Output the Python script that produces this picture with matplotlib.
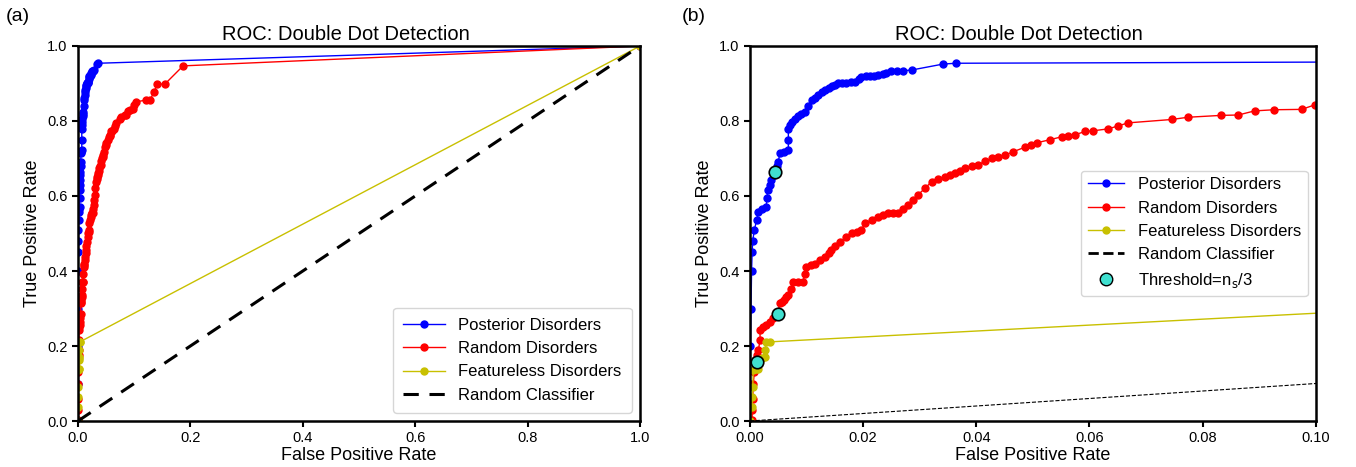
#!/usr/bin/env python3

import matplotlib
matplotlib.use("Agg")
import matplotlib.pyplot as plt
from matplotlib.lines import Line2D

plt.rcParams['font.family'] = ['Liberation Sans', 'DejaVu Sans']

# ROC points (fpr, tpr)
post_fpr = [0.0, 0.0, 0.0001, 0.0002, 0.0003, 0.0004, 0.0005, 0.0008, 0.0012,
            0.0015, 0.0022, 0.0029, 0.0030, 0.0032, 0.0035, 0.0038, 0.0042,
            0.0045, 0.0048, 0.0050, 0.0053, 0.0060, 0.0068, 0.0068, 0.0068,
            0.0071, 0.0074, 0.0080, 0.0085, 0.0091, 0.0097, 0.0103, 0.0109,
            0.0115, 0.0120, 0.0127, 0.0133, 0.0140, 0.0145, 0.0150, 0.0156,
            0.0163, 0.0170, 0.0178, 0.0186, 0.0192, 0.0197, 0.0205, 0.0212,
            0.0220, 0.0227, 0.0235, 0.0240, 0.0250, 0.0260, 0.0270, 0.0286,
            0.0342, 0.0365, 1.0]
post_tpr = [0.0, 0.10, 0.20, 0.30, 0.40, 0.45, 0.48, 0.51, 0.536,
            0.558, 0.565, 0.571, 0.595, 0.616, 0.63, 0.643, 0.655,
            0.665, 0.680, 0.690, 0.714, 0.718, 0.723, 0.750, 0.778,
            0.790, 0.798, 0.805, 0.812, 0.818, 0.825, 0.840, 0.856,
            0.862, 0.870, 0.877, 0.883, 0.888, 0.892, 0.896, 0.900,
            0.901, 0.902, 0.903, 0.905, 0.912, 0.918, 0.919, 0.920,
            0.921, 0.923, 0.925, 0.928, 0.932, 0.933, 0.934, 0.936,
            0.952, 0.954, 1.0]

rand_fpr = [0.0, 0.0004, 0.0004, 0.0005, 0.0006, 0.0008, 0.0009, 0.0012,
            0.0015, 0.0018, 0.0018, 0.0024, 0.0029, 0.0035, 0.0041, 0.0049,
            0.0053, 0.0057, 0.0060, 0.0064, 0.0068, 0.0072, 0.0077, 0.0085,
            0.0094, 0.0097, 0.0100, 0.0108, 0.0115, 0.0124, 0.0133, 0.0139,
            0.0144, 0.0151, 0.0159, 0.0170, 0.0180, 0.0189, 0.0197, 0.0203,
            0.0215, 0.0227, 0.0235, 0.0244, 0.0253, 0.0262, 0.0271, 0.0280,
            0.0289, 0.0297, 0.0309, 0.0321, 0.0333, 0.0345, 0.0354, 0.0362,
            0.0371, 0.0380, 0.0392, 0.0403, 0.0415, 0.0427, 0.0439, 0.0451,
            0.0465, 0.0486, 0.0497, 0.0507, 0.0530, 0.0551, 0.0562, 0.0574,
            0.0592, 0.0607, 0.0633, 0.0651, 0.0668, 0.0745, 0.0774, 0.0833,
            0.0863, 0.0892, 0.0926, 0.0975, 0.0998, 0.104, 0.121, 0.128,
            0.135, 0.141, 0.155, 0.187, 1.0]
rand_tpr = [0.0, 0.003, 0.03, 0.06, 0.10, 0.13, 0.163, 0.176,
            0.189, 0.216, 0.243, 0.250, 0.256, 0.265, 0.274, 0.285,
            0.314, 0.318, 0.322, 0.330, 0.336, 0.352, 0.371, 0.371,
            0.371, 0.392, 0.411, 0.416, 0.420, 0.429, 0.438, 0.447,
            0.456, 0.467, 0.478, 0.490, 0.500, 0.505, 0.509, 0.527,
            0.536, 0.545, 0.550, 0.554, 0.554, 0.554, 0.565, 0.576,
            0.590, 0.603, 0.620, 0.638, 0.645, 0.651, 0.656, 0.660,
            0.667, 0.674, 0.679, 0.683, 0.692, 0.700, 0.705, 0.709,
            0.718, 0.730, 0.736, 0.742, 0.750, 0.758, 0.760, 0.763,
            0.772, 0.774, 0.779, 0.787, 0.795, 0.804, 0.810, 0.815,
            0.816, 0.827, 0.830, 0.831, 0.843, 0.851, 0.856, 0.856,
            0.876, 0.898, 0.899, 0.947, 1.0]

feat_fpr = [0.0, 0.0004, 0.0004, 0.0005, 0.0006, 0.0010, 0.0015, 0.0018,
            0.0022, 0.0027, 0.0027, 0.0029, 0.0035, 1.0]
feat_tpr = [0.0, 0.038, 0.065, 0.09, 0.136, 0.138, 0.140, 0.163,
            0.167, 0.171, 0.189, 0.211, 0.211, 1.0]

# threshold = n_s/3 markers (right panel)
thr_fpr = [0.0045, 0.0049, 0.0013]
thr_tpr = [0.665, 0.285, 0.158]


def draw(ax, zoom):
    ax.plot(post_fpr, post_tpr, color='blue', marker='o', markersize=5,
            linewidth=1, label='Posterior Disorders')
    ax.plot(rand_fpr, rand_tpr, color='red', marker='o', markersize=5,
            linewidth=1, label='Random Disorders')
    ax.plot(feat_fpr, feat_tpr, color='#c8c000', marker='o', markersize=5,
            linewidth=1, label='Featureless Disorders')
    if zoom:
        ax.plot([0, 1], [0, 1], 'k--', linewidth=0.8)
        ax.plot(thr_fpr, thr_tpr, linestyle='none', marker='o',
                markersize=9, markerfacecolor='#40e0d0',
                markeredgecolor='black', markeredgewidth=1.2)
        handles, labels = ax.get_legend_handles_labels()
        handles.append(Line2D([], [], color='black', linestyle='--',
                              linewidth=2))
        labels.append('Random Classifier')
        handles.append(Line2D([], [], linestyle='none', marker='o',
                              markersize=9, markerfacecolor='#40e0d0',
                              markeredgecolor='black'))
        labels.append('Threshold=n$_\\mathrm{s}$/3')
        ax.legend(handles, labels, loc='center right', fontsize=12,
                  handlelength=2.2)
        ax.set_xlim(0, 0.1)
        ax.set_xticks([0, 0.02, 0.04, 0.06, 0.08, 0.10])
        ax.set_xticklabels(['0.00', '0.02', '0.04', '0.06', '0.08', '0.10'])
    else:
        ax.plot([0, 1], [0, 1], 'k--', linewidth=2.2,
                label='Random Classifier', dashes=(5, 3.5))
        ax.legend(loc='lower right', fontsize=12, handlelength=2.5,
                  borderpad=0.6)
        ax.set_xlim(0, 1)
    ax.set_ylim(0, 1)
    ax.set_xlabel('False Positive Rate', fontsize=13, labelpad=1)
    ax.set_ylabel('True Positive Rate', fontsize=13, labelpad=4)
    ax.set_title('ROC: Double Dot Detection', fontsize=14.5, pad=4, x=0.476)
    ax.tick_params(labelsize=10.5, width=1.5, length=4)
    for s in ax.spines.values():
        s.set_linewidth(1.8)


def main():
    fig = plt.figure(figsize=(13.56, 4.67), dpi=100)
    ax1 = fig.add_axes([0.0575, 0.0985, 0.4145, 0.803])
    ax2 = fig.add_axes([0.553, 0.0985, 0.4174, 0.803])
    draw(ax1, False)
    draw(ax2, True)
    fig.text(0.004, 0.955, '(a)', fontsize=14)
    fig.text(0.503, 0.955, '(b)', fontsize=14)
    fig.savefig('out.png', dpi=100)


if __name__ == "__main__":
    main()
